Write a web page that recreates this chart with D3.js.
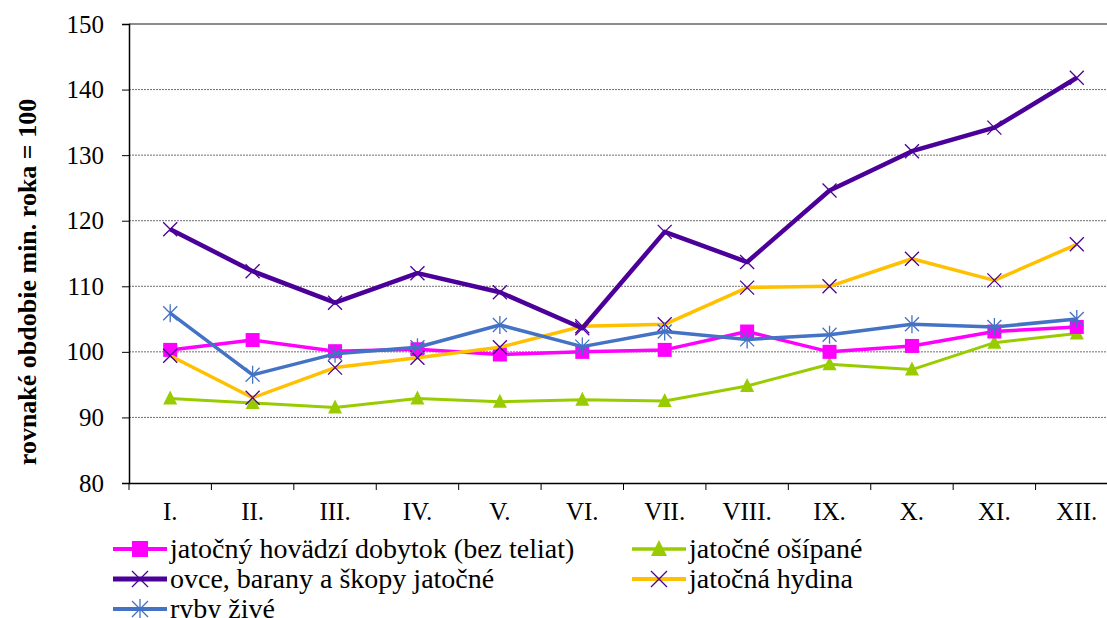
<!DOCTYPE html>
<html>
<head>
<meta charset="utf-8">
<script src="https://cdn.jsdelivr.net/npm/d3@7"></script>
<style>
  body { margin: 0; background: #fff; }
  svg { display: block; }
</style>
</head>
<body>
<div id="chart"></div>
<script>
const months = ["I.", "II.", "III.", "IV.", "V.", "VI.", "VII.", "VIII.", "IX.", "X.", "XI.", "XII."];
const yTicks = [80, 90, 100, 110, 120, 130, 140, 150];

const hovadzi = [100.3, 101.8, 100.1, 100.4, 99.6, 100.0, 100.3, 103.1, 100.0, 100.9, 103.1, 103.8];
const osipane = [92.9, 92.2, 91.5, 92.9, 92.4, 92.7, 92.5, 94.8, 98.1, 97.3, 101.4, 102.8];
const ovce = [118.7, 112.3, 107.5, 112.0, 109.1, 103.6, 118.3, 113.7, 124.6, 130.6, 134.2, 141.8];
const hydina = [99.4, 93.0, 97.6, 99.1, 100.7, 103.9, 104.2, 109.8, 110.0, 114.2, 110.9, 116.4];
const ryby = [105.9, 96.5, 99.7, 100.7, 104.1, 100.8, 103.1, 101.9, 102.6, 104.2, 103.8, 105.0];

const series = [
  { name: "jatočný hovädzí dobytok (bez teliat)", values: hovadzi, color: "#ff00ff", marker: "square", mcolor: "#ff00ff", width: 3.5 },
  { name: "jatočné ošípané", values: osipane, color: "#99cc00", marker: "triangle", mcolor: "#99cc00", width: 3 },
  { name: "ovce, barany a škopy jatočné", values: ovce, color: "#4b0099", marker: "x", mcolor: "#4b0099", width: 4.5 },
  { name: "jatočná hydina", values: hydina, color: "#ffc000", marker: "x", mcolor: "#4b0099", width: 3.5 },
  { name: "ryby živé", values: ryby, color: "#4472c4", marker: "star", mcolor: "#4472c4", width: 3.5 }
];

const W = 1107, H = 618;
const m = { left: 129, top: 24, bottom: 483 };
const plotRight = 1118;
const serif = "'Liberation Serif', 'Times New Roman', serif";

const svg = d3.select("#chart").append("svg")
  .attr("width", W)
  .attr("height", H)
  .style("font-family", serif);

const x = d3.scaleBand().domain(months).range([m.left, plotRight]);
const y = d3.scaleLinear().domain([80, 150]).range([m.bottom, m.top]);

// gridlines
svg.append("g")
  .selectAll("line")
  .data(yTicks.filter(d => d > 80 && d < 150))
  .join("line")
  .attr("x1", m.left).attr("x2", plotRight)
  .attr("y1", d => y(d)).attr("y2", d => y(d))
  .attr("stroke", "#6e6e6e")
  .attr("stroke-width", 1)
  .attr("stroke-dasharray", "2,1");

svg.append("line")
  .attr("x1", m.left).attr("x2", plotRight)
  .attr("y1", y(150)).attr("y2", y(150))
  .attr("stroke", "#8c8c8c")
  .attr("stroke-width", 2);

// axes
const yAxis = svg.append("g")
  .attr("transform", `translate(${m.left},0)`)
  .call(d3.axisLeft(y).tickValues(yTicks).tickSize(7).tickPadding(18))
  .attr("font-family", serif);
yAxis.select(".domain").attr("stroke-width", 1.5);
yAxis.selectAll("text").attr("font-size", 25).attr("fill", "#000");

const xAxis = svg.append("g")
  .attr("transform", `translate(0,${m.bottom})`)
  .call(d3.axisBottom(x).tickSize(0).tickPadding(19))
  .attr("font-family", serif);
xAxis.select(".domain").attr("stroke-width", 1.5);
xAxis.selectAll("text").attr("font-size", 25).attr("fill", "#000");

// category boundary ticks
svg.append("g")
  .selectAll("line")
  .data(months)
  .join("line")
  .attr("x1", d => x(d)).attr("x2", d => x(d))
  .attr("y1", m.bottom).attr("y2", m.bottom + 7)
  .attr("stroke", "#000");

svg.append("text")
  .attr("transform", "translate(36,282) rotate(-90)")
  .attr("text-anchor", "middle")
  .attr("font-size", 26)
  .attr("font-weight", "bold")
  .text("rovnaké obdobie min. roka = 100");

const cx = d => x(d) + x.bandwidth() / 2;

function drawMarker(g, type, color, s) {
  s = s || 7;
  if (type === "square") {
    g.append("rect").attr("x", -s).attr("y", -s).attr("width", 2 * s).attr("height", 2 * s).attr("fill", color);
  } else if (type === "triangle") {
    g.append("path").attr("d", `M0,${-s - 1}L${s},${s - 1}L${-s},${s - 1}Z`).attr("fill", color);
  } else if (type === "x") {
    g.append("path").attr("d", `M${-s},${-s}L${s},${s}M${-s},${s}L${s},${-s}`).attr("stroke", color).attr("stroke-width", 1.3).attr("fill", "none");
  } else if (type === "star") {
    g.append("path").attr("d", `M${-s},${-s}L${s},${s}M${-s},${s}L${s},${-s}M0,${-s - 2}L0,${s + 2}`).attr("stroke", color).attr("stroke-width", 1.3).attr("fill", "none");
  }
}

const line = d3.line().x((d, i) => cx(months[i])).y(d => y(d));

const order = [1, 0, 3, 4, 2];
order.forEach(k => {
  const s = series[k];
  svg.append("path")
    .datum(s.values)
    .attr("d", line)
    .attr("fill", "none")
    .attr("stroke", s.color)
    .attr("stroke-width", s.width)
    .attr("stroke-linejoin", "round");
  s.values.forEach((v, i) => {
    const g = svg.append("g").attr("transform", `translate(${cx(months[i])},${y(v)})`);
    drawMarker(g, s.marker, s.mcolor);
  });
});

// legend
const legendPos = [
  [113, 549], [632, 549], [113, 579], [632, 579], [113, 609]
];
series.forEach((s, i) => {
  const [lx, ly] = legendPos[i];
  const g = svg.append("g").attr("transform", `translate(${lx},${ly})`);
  g.append("line").attr("x1", 0).attr("x2", 54).attr("stroke", s.color).attr("stroke-width", s.width + 0.5);
  const mg = g.append("g").attr("transform", "translate(27,0)");
  drawMarker(mg, s.marker, s.mcolor, 8);
  g.append("text").attr("x", 57).attr("y", 9).attr("font-size", 28).text(s.name);
});
</script>
</body>
</html>
